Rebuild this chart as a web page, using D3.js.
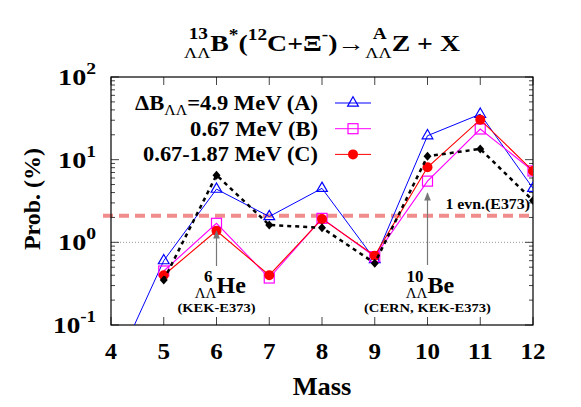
<!DOCTYPE html>
<html>
<head>
<meta charset="utf-8">
<script src="https://cdn.jsdelivr.net/npm/d3@7/dist/d3.min.js"></script>
<style>
  body { margin: 0; background: #fff; }
  text { font-family: 'Liberation Serif', 'DejaVu Serif', serif; font-weight: bold; }
</style>
</head>
<body>
<svg width="581" height="407"></svg>
<script>
// data
const masses = [4, 5, 6, 7, 8, 9, 10, 11, 12];
const probA = [0.024, 0.6, 4.4, 2.05, 4.5, 0.62, 19.5, 35.5, 4.5];      // dB=4.9 MeV
const probB = [null, 0.45, 1.7, 0.37, 1.95, 0.67, 5.5, 23.5, 7.3];      // 0.67 MeV
const probC = [null, 0.40, 1.38, 0.40, 1.92, 0.69, 8.1, 30.5, 7.3];     // 0.67-1.87 MeV
const probD = [null, 0.35, 6.5, 1.62, 1.5, 0.56, 11, 13.5, 3.2];        // black dashed
const oneEvent = 2.1;
const yTickExp = [-1, 0, 1, 2];

const svg = d3.select('svg');
const margin = {left: 111, right: 48, top: 77, bottom: 82};
const W = 581 - margin.left - margin.right;
const H = 407 - margin.top - margin.bottom;

const x = d3.scaleLinear().domain([4, 12]).range([0, W]);
const y = d3.scaleLog().domain([0.1, 100]).range([H, 0]);

// the reference type is a bit wider than Liberation Serif: stretch a text to a width around its anchor
const fit = (t, ax, w) => {
  const cur = t.node().getBBox().width;
  const s = w / cur;
  t.attr('transform', `translate(${ax},0) scale(${s},1) translate(${-ax},0)`);
  return t;
};

const g = svg.append('g').attr('transform', `translate(${margin.left},${margin.top})`);

const defs = svg.append('defs');
defs.append('clipPath').attr('id', 'clip')
  .append('rect').attr('width', W).attr('height', H);
defs.append('marker').attr('id', 'arr').attr('viewBox', '0 0 10 10')
  .attr('refX', 9).attr('refY', 5).attr('markerWidth', 7).attr('markerHeight', 7)
  .attr('orient', 'auto')
  .append('path').attr('d', 'M0,1 L10,5 L0,9 z').attr('fill', '#777');

// reference lines
g.append('line').attr('x1', 0).attr('x2', W).attr('y1', y(1)).attr('y2', y(1))
  .attr('stroke', '#999').attr('stroke-dasharray', '1,2');
g.append('line').attr('x1', -8).attr('x2', W).attr('y1', y(oneEvent)).attr('y2', y(oneEvent))
  .attr('stroke', '#f08080').attr('stroke-width', 4).attr('stroke-dasharray', '10,6').attr('opacity', 0.9);

// axes: ticks inside on all four sides
const tickCol = '#444';
masses.forEach(m => {
  g.append('line').attr('x1', x(m)).attr('x2', x(m)).attr('y1', H).attr('y2', H - 8).attr('stroke', tickCol);
  g.append('line').attr('x1', x(m)).attr('x2', x(m)).attr('y1', 0).attr('y2', 8).attr('stroke', tickCol);
  const t = g.append('text').attr('x', x(m)).attr('y', H + 34).attr('text-anchor', 'middle')
    .attr('font-size', 23).text(m);
  fit(t, x(m), (m < 10 ? 12.5 : 25));
});
yTickExp.forEach(e => {
  const v = Math.pow(10, e);
  [[0, 8], [W, W - 8]].forEach(([a, b]) =>
    g.append('line').attr('x1', a).attr('x2', b).attr('y1', y(v)).attr('y2', y(v)).attr('stroke', tickCol));
  if (e < 2) d3.range(2, 10).forEach(k => {
    const yy = y(k * v);
    [[0, 4], [W, W - 4]].forEach(([a, b]) =>
      g.append('line').attr('x1', a).attr('x2', b).attr('y1', yy).attr('y2', yy).attr('stroke', tickCol));
  });
  const t = g.append('text').attr('x', -15).attr('y', y(v) + 8).attr('text-anchor', 'end').attr('font-size', 23);
  t.append('tspan').text('10');
  t.append('tspan').attr('dy', -11).attr('font-size', 16).text(e);
  fit(t, -15, e < 0 ? 43 : 38);
});
g.append('rect').attr('width', W).attr('height', H).attr('fill', 'none').attr('stroke', '#000').attr('stroke-width', 1.2);

fit(svg.append('text').attr('x', 322).attr('y', 395).attr('text-anchor', 'middle')
  .attr('font-size', 25).text('Mass'), 322, 59);
svg.append('text').attr('transform', 'translate(40,199) rotate(-90)').attr('text-anchor', 'middle')
  .attr('font-size', 24).text('Prob. (%)');

// series
const series = [
  {vals: probA, color: '#0000ff', width: 1, dash: null, shape: 'tri'},
  {vals: probB, color: '#ff00ff', width: 1.1, dash: null, shape: 'sq'},
  {vals: probC, color: '#ff0000', width: 1.1, dash: null, shape: 'dot'},
  {vals: probD, color: '#000000', width: 2.5, dash: '4,4', shape: 'dia'}
];
const line = d3.line().defined(d => d[1] != null).x(d => x(d[0])).y(d => y(d[1]));
const plot = g.append('g').attr('clip-path', 'url(#clip)');

const drawMarker = (sel, shape, color) => {
  if (shape === 'tri') sel.append('path').attr('d', d3.symbol(d3.symbolTriangle, 50)())
    .attr('fill', 'none').attr('stroke', color).attr('stroke-width', 1.2);
  if (shape === 'sq') sel.append('rect').attr('x', -5).attr('y', -5).attr('width', 10).attr('height', 10)
    .attr('fill', 'none').attr('stroke', color).attr('stroke-width', 1.2);
  if (shape === 'dot') sel.append('circle').attr('r', 5).attr('fill', color);
  if (shape === 'dia') sel.append('path').attr('d', 'M0,-4.5L4,0L0,4.5L-4,0Z').attr('fill', color);
};

series.forEach(s => {
  const pts = masses.map((m, i) => [m, s.vals[i]]);
  plot.append('path').datum(pts).attr('d', line).attr('fill', 'none')
    .attr('stroke', s.color).attr('stroke-width', s.width).attr('stroke-dasharray', s.dash);
  pts.filter(d => d[1] != null && d[1] >= 0.1).forEach(d => {
    const mg = plot.append('g').attr('transform', `translate(${x(d[0])},${y(d[1])})`);
    drawMarker(mg, s.shape, s.color);
  });
});

// legend
const legend = [
  {label: null, color: '#0000ff', shape: 'tri', w: 183},
  {label: '0.67 MeV (B)', color: '#ff00ff', shape: 'sq', w: 128},
  {label: '0.67-1.87 MeV (C)', color: '#ff0000', shape: 'dot', w: 175}
];
legend.forEach((l, i) => {
  const yy = 103 + i * 25.7;
  const t = svg.append('text').attr('x', 318).attr('y', yy + 7).attr('text-anchor', 'end').attr('font-size', 20);
  if (l.label) t.text(l.label);
  else {
    t.append('tspan').text('ΔB');
    t.append('tspan').attr('dy', 5).attr('font-size', 14).style('font-weight', 'normal').text('ΛΛ');
    t.append('tspan').attr('dy', -5).text('=4.9 MeV (A)');
  }
  fit(t, 318, l.w);
  svg.append('line').attr('x1', 335).attr('x2', 371).attr('y1', yy).attr('y2', yy).attr('stroke', l.color);
  drawMarker(svg.append('g').attr('transform', `translate(353,${yy})`), l.shape, l.color);
});

// annotations
fit(svg.append('text').attr('x', 530).attr('y', 209).attr('text-anchor', 'end').attr('font-size', 14)
  .text('1 evn.(E373)'), 530, 85);

const hypernucleus = (cx, mass, sym, ref, refW, yTop, yTip) => {
  const X = margin.left + x(cx);
  svg.append('line').attr('x1', X).attr('x2', X).attr('y1', yTop).attr('y2', yTip)
    .attr('stroke', '#777').attr('stroke-width', 1.2).attr('marker-end', 'url(#arr)');
  svg.append('text').attr('x', X - 4).attr('y', 282).attr('text-anchor', 'end').attr('font-size', 17).text(mass);
  svg.append('text').attr('x', X).attr('y', 298).attr('text-anchor', 'end').attr('font-size', 15)
    .style('font-weight', 'normal').text('ΛΛ');
  svg.append('text').attr('x', X).attr('y', 293).attr('font-size', 24).text(sym);
  fit(svg.append('text').attr('x', X).attr('y', 312).attr('text-anchor', 'middle').attr('font-size', 13)
    .text(ref), X, refW);
};
hypernucleus(6, '6', 'He', '(KEK-E373)', 78, 266, 231);
hypernucleus(10, '10', 'Be', '(CERN, KEK-E373)', 127, 265, 193);

// title with stacked pre-scripts, built piece by piece then stretched to the reference width
const titleG = svg.append('g');
let cx = 0;
const base = 51;
const piece = (txt, size, dy, weight) => {
  const t = titleG.append('text').attr('x', cx).attr('y', base + dy).attr('font-size', size)
    .style('font-weight', weight || 'bold').text(txt);
  cx += t.node().getComputedTextLength();
};
const stack = (top, bot) => {
  const a = titleG.append('text').attr('x', cx).attr('y', base - 12).attr('font-size', 16).text(top);
  const b = titleG.append('text').attr('x', cx).attr('y', base + 7).attr('font-size', 15)
    .style('font-weight', 'normal').text(bot);
  const wa = a.node().getComputedTextLength(), wb = b.node().getComputedTextLength();
  const w = Math.max(wa, wb);
  a.attr('x', cx + (w - wa) / 2 + 1);
  cx += w;
};
stack('13', 'ΛΛ');
piece('B', 23, 0);
piece('*', 16, -11);
piece('(', 23, 0);
piece('12', 16, -11);
piece('C+Ξ', 23, 0);
piece('-', 16, -11);
piece(') ', 23, 0);
piece('→ ', 23, 0, 'normal');
stack('A', 'ΛΛ');
piece('Z + X', 23, 0);
titleG.attr('transform', `translate(184,0) scale(${276 / cx},1)`);
</script>
</body>
</html>
